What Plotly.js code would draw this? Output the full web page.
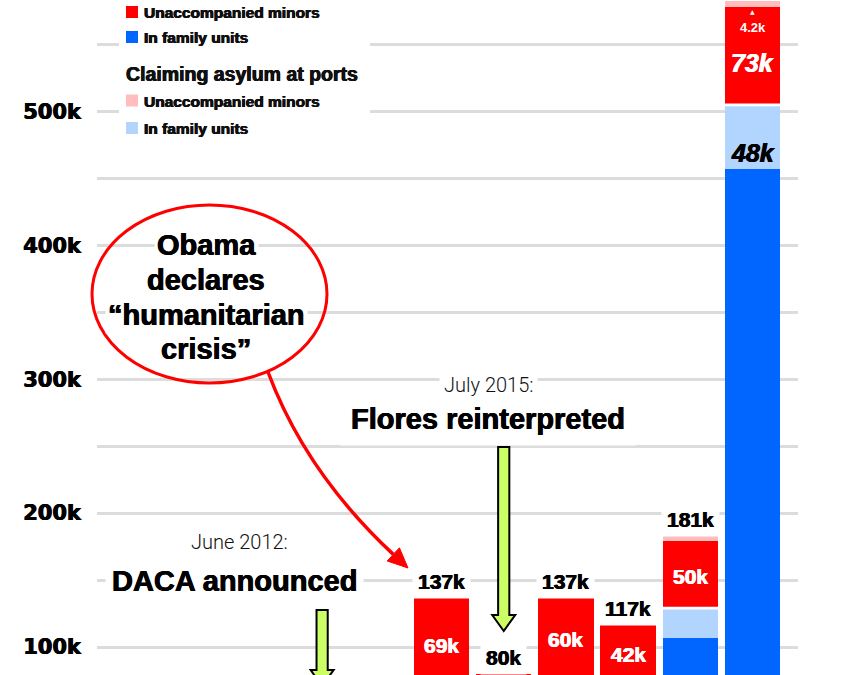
<!DOCTYPE html>
<html>
<head>
<meta charset="utf-8">
<script src="https://cdn.plot.ly/plotly-3.0.1.min.js"></script>
<style>
html,body{margin:0;padding:0;background:#fff;}
#chart{width:863px;height:675px;}
</style>
</head>
<body>
<div id="chart"></div>
<script>
// ---------- data (fiscal years) ----------
const years        = [2012, 2013, 2014, 2015, 2016, 2017, 2018, 2019];
const familyBorder = [11000, 15000, 68000, 40000, 77000, 75000, 107000, 457000];
const familyPorts  = [0, 0, 0, 0, 0, 0, 22000, 48000];
const minorsBorder = [24000, 39000, 69000, 40000, 60000, 42000, 50000, 73000];
const minorsPorts  = [0, 0, 0, 0, 0, 0, 4500, 4200];
const totalLabels       = ['', '', '137k', '80k', '137k', '117k', '181k', ''];
const minorsLabels      = ['', '', '69k', '', '60k', '42k', '50k', '73k'];
const familyPortsLabels = ['', '', '', '', '', '', '', '48k'];
const minorsPortsLabels = ['', '', '', '', '', '', '', '4.2k'];
const yTickVals = [100000, 150000, 200000, 250000, 300000, 350000, 400000, 450000, 500000, 550000];
const yTickText = ['100k', '', '200k', '', '300k', '', '400k', '', '500k', ''];
const legendItems = ['Unaccompanied minors', 'In family units', 'Claiming asylum at ports', 'Unaccompanied minors', 'In family units'];

// ---------- styles ----------
const RED = '#ff0000', BLUE = '#0066ff', LBLUE = '#b1d5ff', PINK = '#ffbdbd', LIME = '#ccff66';
const BOLD = 'Liberation Sans, Arial, sans-serif';
const HEAVY_K = '0.45px 0 0 #000, -0.45px 0 0 #000';
const HEAVY_W = '0.45px 0 0 #fff, -0.45px 0 0 #fff';
const PLOT_LEFT = 97;

function bar(y, color) {
  return {type: 'bar', x: years, y: y, marker: {color: color, line: {width: 0}},
          hoverinfo: 'skip', showlegend: false};
}
const traces = [bar(familyBorder, BLUE), bar(familyPorts, LBLUE), bar(minorsBorder, RED), bar(minorsPorts, PINK)];

// pixel frame helpers (anchored at top-left of plot area)
function pxShape(o) {
  return Object.assign({xref: 'paper', yref: 'paper', xsizemode: 'pixel', ysizemode: 'pixel',
                        xanchor: 0, yanchor: 1, layer: 'above'}, o);
}
const X = v => v - PLOT_LEFT;
const Y = v => -v;
function pxText(text, x, y, font, extra) {
  return Object.assign({xref: 'paper', yref: 'paper', x: 0, y: 1, xshift: X(x), yshift: Y(y),
                        text: text, showarrow: false, xanchor: 'center', yanchor: 'middle',
                        font: font, borderpad: 0}, extra || {});
}

const shapes = [];
const annotations = [];

// white separators between family-unit and minor segments
years.forEach((yr, i) => {
  const yv = familyBorder[i] + familyPorts[i];
  shapes.push({type: 'line', xref: 'x', yref: 'y', x0: yr - 0.446, x1: yr + 0.446, y0: yv, y1: yv,
               line: {color: '#ffffff', width: 2.7}, layer: 'above'});
});

// legend background + swatches
shapes.push(pxShape({type: 'rect', x0: X(119), x1: X(370), y0: Y(145), y1: Y(-5),
                     fillcolor: '#ffffff', line: {width: 0}}));
const swatches = [[RED, 12], [BLUE, 37], [PINK, 100.5], [LBLUE, 128]];
swatches.forEach(([c, cy]) => {
  shapes.push(pxShape({type: 'rect', x0: X(126), x1: X(138), y0: Y(cy + 6), y1: Y(cy - 6),
                       fillcolor: c, line: {width: 0}}));
});
const legFont = {family: BOLD, size: 15.5, color: '#111', weight: 700, shadow: HEAVY_K};
annotations.push(pxText(legendItems[0], 142.5, 12.5, legFont, {xanchor: 'left'}));
annotations.push(pxText(legendItems[1], 142.5, 37.5, legFont, {xanchor: 'left'}));
annotations.push(pxText(legendItems[2], 125, 74, {family: BOLD, size: 19.5, color: '#111', weight: 700, shadow: HEAVY_K}, {xanchor: 'left'}));
annotations.push(pxText(legendItems[3], 142.5, 101, legFont, {xanchor: 'left'}));
annotations.push(pxText(legendItems[4], 142.5, 128.5, legFont, {xanchor: 'left'}));

// Obama callout ellipse + curved arrow
shapes.push(pxShape({type: 'circle', x0: X(92), x1: X(327), y0: Y(383), y1: Y(205),
                     line: {color: RED, width: 3}, fillcolor: 'rgba(0,0,0,0)'}));
shapes.push(pxShape({type: 'path',
  path: `M${X(268)},${Y(372)} Q${X(305.5)},${Y(472.5)} ${X(393.3)},${Y(554.4)}`,
  line: {color: RED, width: 3.5}, fillcolor: 'rgba(0,0,0,0)'}));
shapes.push(pxShape({type: 'path',
  path: `M${X(408)},${Y(568)} L${X(387.2)},${Y(561)} L${X(399.4)},${Y(547.8)} Z`,
  line: {color: RED, width: 1}, fillcolor: RED}));

const calloutFont = {family: BOLD, size: 29, color: '#000', weight: 700, shadow: HEAVY_K};
[['Obama', 245], ['declares', 279.5], ['\u201chumanitarian', 315], ['crisis\u201d', 348.5]].forEach(([t, cy]) => {
  annotations.push(pxText(t, 206, cy, calloutFont, {bgcolor: '#ffffff', borderpad: 2}));
});

// Event arrows (green), anchored to their fiscal-year bars
function greenArrow(year, dx, tipY, baseY, topY) {
  return {type: 'path', xref: 'x', yref: 'paper', xsizemode: 'pixel', ysizemode: 'pixel',
          xanchor: year, yanchor: 1, layer: 'above',
          path: `M${dx},${-tipY} L${dx - 11.5},${-baseY} L${dx - 5.6},${-baseY} L${dx - 5.6},${-topY} ` +
                `L${dx + 5.6},${-topY} L${dx + 5.6},${-baseY} L${dx + 11.5},${-baseY} Z`,
          fillcolor: LIME, line: {color: '#000', width: 2}};
}
shapes.push(greenArrow(2015, 0, 631, 615, 447));
shapes.push(greenArrow(2012, 5, 686, 670, 610));

const lightFont = {family: 'Roboto, sans-serif', size: 20, color: '#111', weight: 300};
const bigFont = {family: BOLD, size: 29, color: '#000', weight: 700, shadow: HEAVY_K};
annotations.push(pxText('June 2012:', 239, 542, lightFont));
annotations.push(pxText('DACA announced', 234, 580.5, bigFont, {bgcolor: '#ffffff', borderpad: 6}));
annotations.push(pxText('Flores reinterpreted', 487.5, 419, bigFont,
                        {bgcolor: '#ffffff', borderpad: 10}));
annotations.push(pxText('July 2015:', 488, 385, lightFont, {bgcolor: '#ffffff', borderpad: 4}));

// bar labels
const totalFont = {family: BOLD, size: 21, color: '#000', weight: 700, shadow: HEAVY_K};
years.forEach((yr, i) => {
  const fb = familyBorder[i], fp = familyPorts[i], mb = minorsBorder[i], mp = minorsPorts[i];
  const total = fb + fp + mb + mp;
  if (totalLabels[i]) {
    annotations.push({xref: 'x', yref: 'y', x: yr, y: total, yshift: 16, text: totalLabels[i],
                      showarrow: false, yanchor: 'middle', font: totalFont, bgcolor: '#ffffff', borderpad: 5});
  }
  if (minorsLabels[i]) {
    const big = (yr === 2019);
    annotations.push({xref: 'x', yref: 'y', x: yr, y: fb + fp + mb / 2, yshift: big ? -7 : -2,
                      text: minorsLabels[i], showarrow: false, yanchor: 'middle',
                      font: {family: BOLD, size: big ? 25 : 21, color: '#fff', weight: 700,
                             style: big ? 'italic' : 'normal', shadow: HEAVY_W}});
  }
  if (familyPortsLabels[i]) {
    annotations.push({xref: 'x', yref: 'y', x: yr, y: fb + fp / 2, yshift: -16,
                      text: familyPortsLabels[i], showarrow: false, yanchor: 'middle',
                      font: {family: BOLD, size: 25, color: '#000', weight: 700, style: 'italic', shadow: HEAVY_K}});
  }
  if (minorsPortsLabels[i]) {
    annotations.push({xref: 'x', yref: 'y', x: yr, y: fb + fp + mb + mp / 2, yshift: -23,
                      text: minorsPortsLabels[i], showarrow: false, yanchor: 'middle',
                      font: {family: BOLD, size: 13, color: '#fff', weight: 700}});
    annotations.push({xref: 'x', yref: 'y', x: yr, y: fb + fp + mb + mp / 2, yshift: -7,
                      text: '\u25b2', showarrow: false, yanchor: 'middle',
                      font: {family: 'DejaVu Sans', size: 6, color: '#fff'}});
  }
});

const layout = {
  width: 863, height: 675,
  margin: {l: PLOT_LEFT, r: 65, t: 0, b: 0, pad: 0},
  paper_bgcolor: '#ffffff', plot_bgcolor: '#ffffff',
  barmode: 'stack', bargap: 0.108,
  showlegend: false,
  xaxis: {range: [2008.461, 2019.731], showgrid: false, zeroline: false, showticklabels: false,
          ticks: '', showline: false, fixedrange: true},
  yaxis: {range: [79100, 583300], tickvals: yTickVals, ticktext: yTickText,
          showgrid: true, gridcolor: '#dcdcdc', gridwidth: 3, zeroline: false, showline: false,
          ticks: '', ticklabelstandoff: 15,
          tickfont: {family: 'DejaVu Sans, sans-serif', size: 21, color: '#000', weight: 700, shadow: HEAVY_K},
          fixedrange: true},
  shapes: shapes,
  annotations: annotations
};

Plotly.newPlot('chart', traces, layout, {displayModeBar: false, staticPlot: true});
</script>
</body>
</html>
